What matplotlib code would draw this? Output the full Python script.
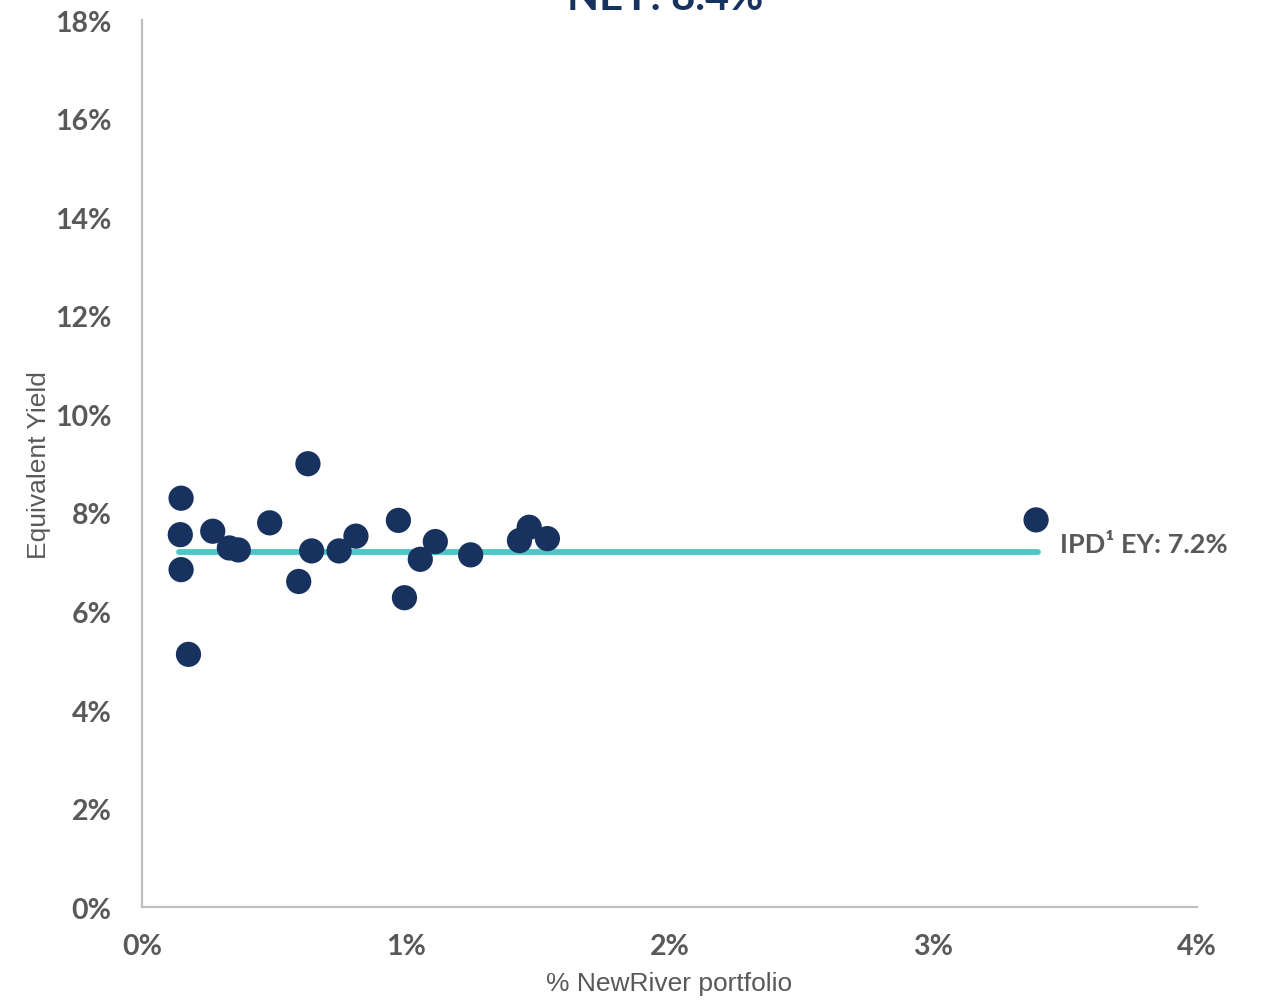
import matplotlib
matplotlib.use("Agg")
import matplotlib.pyplot as plt
from matplotlib.ticker import FuncFormatter

# Portfolio weight (% of NewRiver portfolio) and equivalent yield (%) per asset
portfolio_pct = [0.148, 0.145, 0.148, 0.176, 0.268, 0.331, 0.365, 0.484, 0.594,
                 0.629, 0.643, 0.747, 0.811, 0.972, 0.995, 1.055, 1.112, 1.246,
                 1.431, 1.468, 1.537, 3.390]
equivalent_yield = [8.30, 7.56, 6.85, 5.13, 7.63, 7.29, 7.25, 7.80, 6.61,
                    9.00, 7.23, 7.23, 7.53, 7.85, 6.28, 7.06, 7.42, 7.15,
                    7.44, 7.71, 7.48, 7.86]

# IPD benchmark equivalent yield line
ipd_x = [0.14, 3.397]
ipd_ey = 7.2

title_text = "NEY: 8.4%"
ipd_label = "IPD\u00b9 EY: 7.2%"
x_ticks = [0, 1, 2, 3, 4]
y_ticks = [0, 2, 4, 6, 8, 10, 12, 14, 16, 18]

NAVY = "#17325F"
TEAL = "#4DC6C8"
GREY = "#595959"

fig = plt.figure(figsize=(12.65, 10.03), dpi=100)
ax = fig.add_axes([0.1123, 0.0947, 0.8339, 0.8839])

ax.plot(ipd_x, [ipd_ey, ipd_ey], color=TEAL, linewidth=4.2,
        solid_capstyle="round", zorder=2)
ax.scatter(portfolio_pct, equivalent_yield, s=330, color=NAVY,
           edgecolors="none", zorder=3)

ax.set_xlim(0, 4)
ax.set_ylim(0, 18)
ax.set_xticks(x_ticks)
ax.set_yticks(y_ticks)
fmt = FuncFormatter(lambda v, p: f"{v:.0f}%")
ax.xaxis.set_major_formatter(fmt)
ax.yaxis.set_major_formatter(fmt)
ax.tick_params(axis="both", length=0, labelsize=20.5, labelcolor=GREY)
ax.tick_params(axis="x", pad=19)
ax.tick_params(axis="y", pad=22)
for lbl in ax.get_xticklabels() + ax.get_yticklabels():
    lbl.set_fontfamily("Lato")
    lbl.set_fontweight("bold")

for side in ("top", "right"):
    ax.spines[side].set_visible(False)
for side in ("left", "bottom"):
    ax.spines[side].set_color("#BFBFBF")
    ax.spines[side].set_linewidth(1.6)

ax.set_xlabel("% NewRiver portfolio", fontsize=19, color=GREY,
              family="Liberation Sans", labelpad=8)
ax.set_ylabel("Equivalent Yield", fontsize=19, color=GREY,
              family="Liberation Sans")
ax.yaxis.set_label_coords(-0.086, 0.5)

ax.annotate(ipd_label, xy=(ipd_x[1], ipd_ey), xytext=(16, 6),
            textcoords="offset points", va="center", ha="left",
            fontsize=19.5, fontweight="bold", color=GREY, family="Lato",
            annotation_clip=False)

fig.text(0.526, 1 - 10 / 1003, title_text, ha="center", va="baseline",
         fontsize=30, fontweight="bold", color=NAVY, family="Lato")

fig.savefig("out.png", dpi=100)
